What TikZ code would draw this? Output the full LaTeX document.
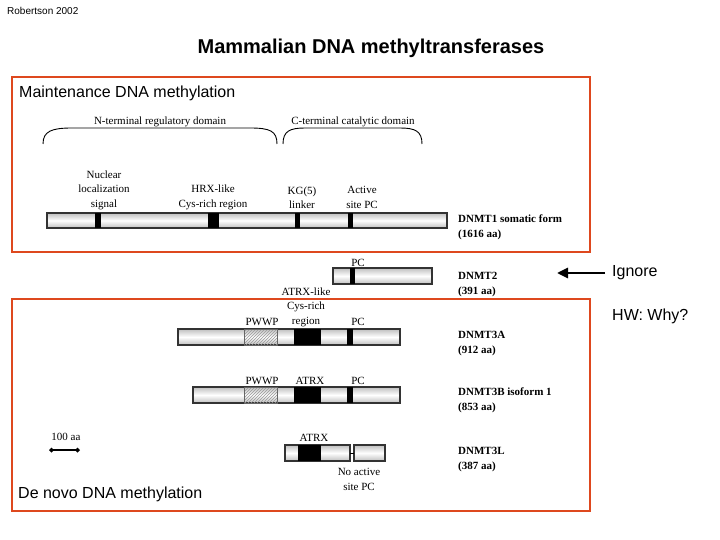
\documentclass[tikz,border=0pt]{standalone}
\usepackage{fontspec}
\setmainfont{Liberation Serif}
\setsansfont{Liberation Sans}
\usetikzlibrary{patterns,arrows.meta}
\definecolor{redbox}{RGB}{222,72,30}
\begin{document}
\begin{tikzpicture}[x=1pt,y=-1pt,
  lab/.style={font=\fontsize{11}{14.5}\selectfont,inner sep=0pt,align=center},
  pname/.style={font=\fontsize{11}{15}\selectfont\bfseries,inner sep=0pt,anchor=west,align=left},
  sans/.style={font=\sffamily\fontsize{16}{18}\selectfont,inner sep=0pt},
  bar/.style={draw=black!80,line width=1.1pt,top color=black!25,bottom color=black!25,middle color=white},
  band/.style={fill=black},
  hatch/.style={pattern=north east lines,pattern color=black!40,draw=black!60,line width=0.6pt},
  frame/.style={draw=redbox,line width=2.4pt},
  brace/.style={draw,line width=0.9pt}]
\useasboundingbox (0,0) rectangle (720,540);
\node[font=\sffamily\fontsize{10}{11}\selectfont,anchor=west,inner sep=0pt] (src) at (7,11) {Robertson 2002};
\node[font=\sffamily\bfseries\fontsize{20}{22}\selectfont,inner sep=0pt] (title) at (371,48) {Mammalian DNA methyltransferases};
\draw[frame] (12,77) rectangle (590,252);
\draw[frame] (12,299) rectangle (590,511);
\node[sans,anchor=west] (maint) at (19,93) {Maintenance DNA methylation};
\node[sans,anchor=west] (denovo) at (18,494) {De novo DNA methylation};
% braces
\draw[brace] (43,144) .. controls (43,131) and (52,128) .. (72,128) -- (250,128) .. controls (270,128) and (277,131) .. (277,144);
\draw[brace] (283,144) .. controls (283,131) and (290,128) .. (305,128) -- (400,128) .. controls (415,128) and (422,131) .. (422,144);
\node[lab] (nterm) at (160,122) {N-terminal regulatory domain};
\node[lab] (cterm) at (353,122) {C-terminal catalytic domain};
% DNMT1
\draw[bar] (47,213) rectangle (447,228);
\fill[band] (95,213) rectangle (101,228);
\fill[band] (208,213) rectangle (219,228);
\fill[band] (295,213) rectangle (300,228);
\fill[band] (348,213) rectangle (353,228);
\node[lab] (nls) at (104,190) {Nuclear\\localization\\signal};
\node[lab] (hrx) at (213,197.5) {HRX-like\\Cys-rich region};
\node[lab] (kg) at (302,197.5) {KG(5)\\linker};
\node[lab] (act) at (362,197.5) {Active\\site PC};
\node[pname] (d1) at (458,227) {DNMT1 somatic form\\(1616 aa)};
% DNMT2
\draw[bar] (333,268) rectangle (432,284);
\fill[band] (350,268) rectangle (355,284);
\node[lab] (pc2) at (358,263) {PC};
\node[pname] (d2) at (458,285) {DNMT2\\(391 aa)};
\node[sans,anchor=west] (ign) at (612,273) {Ignore};
\draw[line width=2.6pt,-{Triangle[length=11pt,width=10pt]}] (ign.west) ++(-7,0) coordinate (ia) -- ++(-48,0) coordinate (ib);
\node[sans,anchor=west] (hw) at (612,316) {HW: Why?};
% DNMT3A
\node[lab] (atrxl) at (306,307) {ATRX-like\\Cys-rich\\region};
\draw[bar] (178,329) rectangle (400,345);
\draw[hatch] (244,329) rectangle (277,345);
\fill[band] (294,329) rectangle (321,345);
\fill[band] (347,329) rectangle (353,345);
\node[lab] (pw1) at (262,322) {PWWP};
\node[lab] (pc3) at (358,322) {PC};
\node[pname] (d3a) at (458,343.5) {DNMT3A\\(912 aa)};
% DNMT3B
\draw[bar] (193,387) rectangle (400,403);
\draw[hatch] (244,387) rectangle (277,403);
\fill[band] (294,387) rectangle (321,403);
\fill[band] (347,387) rectangle (353,403);
\node[lab] (pw2) at (262,381) {PWWP};
\node[lab] (atrx2) at (310,381) {ATRX};
\node[lab] (pc4) at (358,381) {PC};
\node[pname] (d3b) at (458,400.5) {DNMT3B isoform 1\\(853 aa)};
% DNMT3L
\draw[bar] (285,445) rectangle (350,461);
\draw[bar] (354,445) rectangle (385,461);
\draw[line width=0.8pt] (350,453) -- (354,453);
\fill[band] (298,445) rectangle (321,461);
\node[lab] (atrx3) at (314,438) {ATRX};
\node[lab] (noact) at (359,479.5) {No active\\site PC};
\node[pname] (d3l) at (458,459.5) {DNMT3L\\(387 aa)};
% scale
\node[lab] (scl) at (66,437) {100 aa};
\coordinate (s1) at (49,450);
\coordinate (s2) at (80,450);
\draw[line width=1.4pt,{Diamond[length=5pt,width=5pt]}-{Diamond[length=5pt,width=5pt]}] (s1) -- (s2);
\end{tikzpicture}
\end{document}
